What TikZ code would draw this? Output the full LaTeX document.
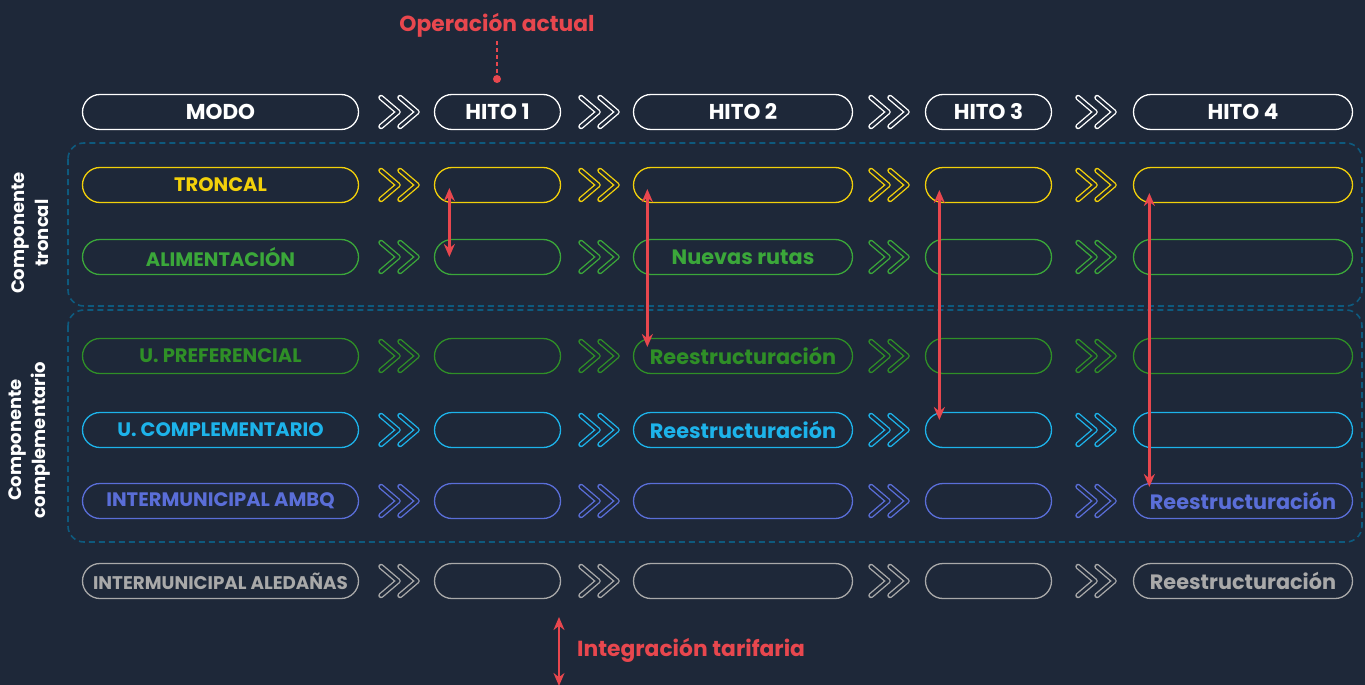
\documentclass[tikz,border=0pt]{standalone}
\usepackage{fontspec}
\setmainfont{Poppins}
\usetikzlibrary{arrows.meta}
\definecolor{bg}{HTML}{1E2839}
\definecolor{cyel}{HTML}{F2D00A}
\definecolor{cgrn}{HTML}{3BA73A}
\definecolor{cdgr}{HTML}{2F8F27}
\definecolor{ccya}{HTML}{1DB3EA}
\definecolor{cblu}{HTML}{5A6ED8}
\definecolor{cgry}{HTML}{A9A9A9}
\definecolor{cred}{HTML}{E8474E}
\definecolor{cfrm}{HTML}{0E5A7E}
\newcommand\chevs[3]{%
  \draw[chev=#3] (#1+3,#2-14.5) -- ++(17,14.5) -- ++(-17,14.5);
  \draw[chev=#3] (#1+22,#2-14.5) -- ++(17,14.5) -- ++(-17,14.5);}
\begin{document}
\begin{tikzpicture}[x=1pt,y=-1pt,
  pill/.style={draw=#1, text=#1, rounded corners=17.5pt, minimum height=35pt,
    line width=1.3pt, inner sep=0pt, font=\fontsize{19.5}{22}\selectfont\bfseries},
  hdr/.style={font=\fontsize{21.5}{24}\selectfont\bfseries},
  big/.style={font=\fontsize{20.8}{24}\selectfont\bfseries},
  w0/.style={minimum width=276pt},
  wS/.style={minimum width=126pt},
  wL/.style={minimum width=219pt},
  chev/.style={draw=#1, double=bg, double distance=2.8pt, line width=1.35pt,
    line cap=round, line join=round},
  ra/.style={draw=cred, line width=2.4pt,
    {Stealth[length=13pt,width=11pt]}-{Stealth[length=13pt,width=11pt]}},
  redtext/.style={text=cred, font=\fontsize{21.8}{24}\selectfont\bfseries, inner sep=0pt},
  side/.style={text=white, rotate=90, align=center, font=\fontsize{18}{24}\selectfont\bfseries},
  frame/.style={draw=cfrm, line width=1.6pt, dash pattern=on 6pt off 4pt, rounded corners=16pt}
]
\useasboundingbox[fill=bg] (0,0) rectangle (1365,685);

% frames
\draw[frame] (68,143) rectangle (1362,306);
\draw[frame] (68,310) rectangle (1362,542);
\node[side] (sl1) at (30,233) {Componente\\troncal};
\node[side] (sl2) at (30,440) {Componente\\complementario};

% header
\node[pill=white,w0,hdr] (r0-0) at (220.5,112) {MODO};
\node[pill=white,wS,hdr] (r0-1) at (497.5,112) {HITO 1};
\node[pill=white,wL,hdr] (r0-2) at (743,112) {HITO 2};
\node[pill=white,wS,hdr] (r0-3) at (988.5,112) {HITO 3};
\node[pill=white,wL,hdr] (r0-4) at (1243,112) {HITO 4};
% troncal
\node[pill=cyel,w0] (r1-0) at (220.5,185) {TRONCAL};
\node[pill=cyel,wS] (r1-1) at (497.5,185) {};
\node[pill=cyel,wL] (r1-2) at (743,185) {};
\node[pill=cyel,wS] (r1-3) at (988.5,185) {};
\node[pill=cyel,wL] (r1-4) at (1243,185) {};
% alimentacion
\node[pill=cgrn,w0] (r2-0) at (220.5,257) {ALIMENTACIÓN};
\node[pill=cgrn,wS] (r2-1) at (497.5,257) {};
\node[pill=cgrn,wL,big] (r2-2) at (743,257) {Nuevas rutas};
\node[pill=cgrn,wS] (r2-3) at (988.5,257) {};
\node[pill=cgrn,wL] (r2-4) at (1243,257) {};
% preferencial
\node[pill=cdgr,w0] (r3-0) at (220.5,356) {U. PREFERENCIAL};
\node[pill=cdgr,wS] (r3-1) at (497.5,356) {};
\node[pill=cdgr,wL,big] (r3-2) at (743,356) {Reestructuración};
\node[pill=cdgr,wS] (r3-3) at (988.5,356) {};
\node[pill=cdgr,wL] (r3-4) at (1243,356) {};
% complementario
\node[pill=ccya,w0] (r4-0) at (220.5,430) {U. COMPLEMENTARIO};
\node[pill=ccya,wS] (r4-1) at (497.5,430) {};
\node[pill=ccya,wL,big] (r4-2) at (743,430) {Reestructuración};
\node[pill=ccya,wS] (r4-3) at (988.5,430) {};
\node[pill=ccya,wL] (r4-4) at (1243,430) {};
% ambq
\node[pill=cblu,w0] (r5-0) at (220.5,501) {INTERMUNICIPAL AMBQ};
\node[pill=cblu,wS] (r5-1) at (497.5,501) {};
\node[pill=cblu,wL] (r5-2) at (743,501) {};
\node[pill=cblu,wS] (r5-3) at (988.5,501) {};
\node[pill=cblu,wL,big] (r5-4) at (1243,501) {Reestructuración};
% aledanas
\node[pill=cgry,w0,font=\fontsize{18.3}{22}\selectfont\bfseries] (r6-0) at (220.5,581) {INTERMUNICIPAL ALEDAÑAS};
\node[pill=cgry,wS] (r6-1) at (497.5,581) {};
\node[pill=cgry,wL] (r6-2) at (743,581) {};
\node[pill=cgry,wS] (r6-3) at (988.5,581) {};
\node[pill=cgry,wL,big] (r6-4) at (1243,581) {Reestructuración};

% chevrons
\foreach \yy/\cc in {112/white,185/cyel,257/cgrn,356/cdgr,430/ccya,501/cblu,581/cgry}{
  \foreach \xx in {378,578,868,1075}{
    \chevs{\xx}{\yy}{\cc}
  }
}

% red arrows
\draw[ra] ([xshift=15.5pt,yshift=-3pt]r1-1.west) -- ([xshift=15.5pt]r2-1.west);
\draw[ra] ([xshift=14.5pt,yshift=-4pt]r1-2.west) -- ([xshift=14.5pt,yshift=9pt]r3-2.west);
\draw[ra] ([xshift=14.5pt,yshift=-5pt]r1-3.west) -- ([xshift=14.5pt,yshift=10pt]r4-3.west);
\draw[ra] ([xshift=16.5pt,yshift=-8pt]r1-4.west) -- ([xshift=16.5pt,yshift=14pt]r5-4.west);

% operacion actual
\node[redtext] (op) at (497,25) {Operación actual};
\node[circle, fill=cred, inner sep=0pt, minimum size=8pt] (dot) at (497,79) {};
\draw[cred, line width=1.2pt, dash pattern=on 4pt off 3pt] ([yshift=-4pt]op.south) -- (dot);

% integracion tarifaria
\coordinate (ia) at (559,617);
\coordinate (ib) at (559,686);
\draw[ra] (ia) -- (ib);
\node[redtext, anchor=west] (it) at (577,650) {Integración tarifaria};
\end{tikzpicture}
\end{document}
